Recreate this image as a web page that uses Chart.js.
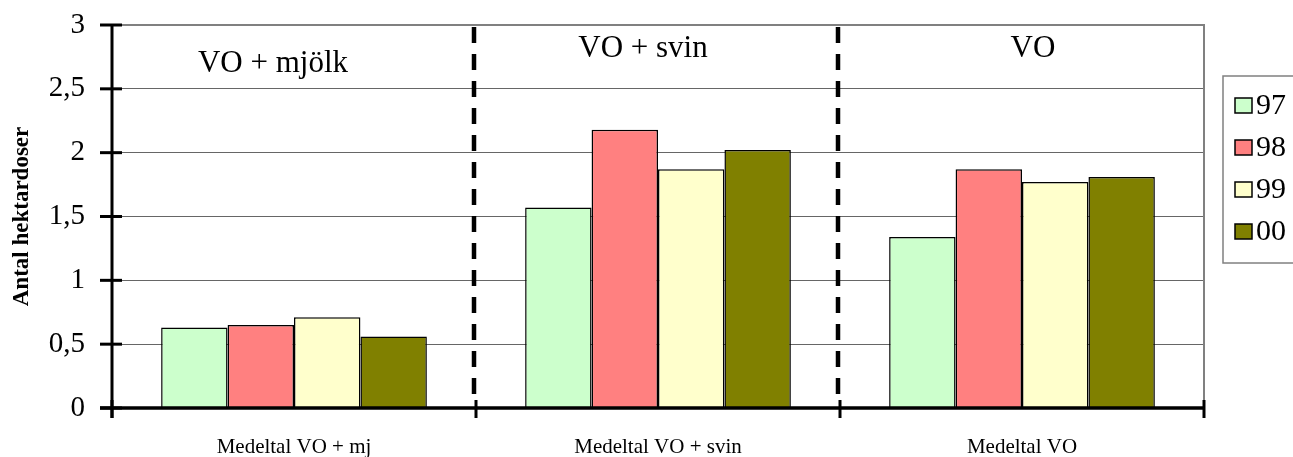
<!DOCTYPE html>
<html>
<head>
<meta charset="utf-8">
<script src="https://cdn.jsdelivr.net/npm/chart.js@4.4.0/dist/chart.umd.min.js"></script>
<style>
  html, body { margin: 0; padding: 0; background: #fff; }
  #wrap { width: 1293px; height: 457px; }
</style>
</head>
<body>
<div id="wrap"><canvas id="hektarChart"></canvas></div>
<script>
const categories = ['Medeltal VO + mj', 'Medeltal VO + svin', 'Medeltal VO'];
const groupTitles = ['VO + mjölk', 'VO + svin', 'VO'];
const years = ['97', '98', '99', '00'];
const values97 = [0.63, 1.57, 1.34];
const values98 = [0.65, 2.18, 1.87];
const values99 = [0.71, 1.87, 1.77];
const values00 = [0.56, 2.02, 1.81];
const colors = ['#CCFFCC', '#FF8080', '#FFFFCC', '#808000'];

const serif = '"Liberation Serif", "Times New Roman", serif';

// axes, ticks, dashed separators, group titles and legend
const decorPlugin = {
    id: 'decor',
    afterDraw(chart) {
        const ctx = chart.ctx;
        const area = chart.chartArea;
        const x = chart.scales.x;
        const y = chart.scales.y;
        ctx.save();

        // plot frame (top + right)
        ctx.strokeStyle = '#808080';
        ctx.lineWidth = 2;
        ctx.beginPath();
        ctx.moveTo(area.left, area.top);
        ctx.lineTo(area.right, area.top);
        ctx.lineTo(area.right, area.bottom);
        ctx.stroke();

        // dashed separators between groups
        ctx.strokeStyle = '#000';
        ctx.lineWidth = 4.5;
        ctx.setLineDash([16, 11]);
        for (let i = 1; i < categories.length; i++) {
            const px = (x.getPixelForValue(i - 1) + x.getPixelForValue(i)) / 2 - 2;
            ctx.beginPath();
            ctx.moveTo(px, area.top + 2);
            ctx.lineTo(px, area.bottom - 6);
            ctx.stroke();
        }
        ctx.setLineDash([]);

        // axis lines
        ctx.lineWidth = 3.5;
        ctx.beginPath();
        ctx.moveTo(area.left - 12, area.bottom);
        ctx.lineTo(area.right, area.bottom);
        ctx.stroke();
        ctx.lineWidth = 3;
        ctx.beginPath();
        ctx.moveTo(area.left, area.top);
        ctx.lineTo(area.left, area.bottom + 10);
        ctx.stroke();

        // y ticks crossing the axis
        y.ticks.forEach(t => {
            const py = y.getPixelForValue(t.value);
            ctx.beginPath();
            ctx.moveTo(area.left - 12, py);
            ctx.lineTo(area.left + 10, py);
            ctx.stroke();
        });
        // x ticks at group boundaries
        for (let i = 0; i <= categories.length; i++) {
            let px;
            if (i === 0) px = area.left;
            else if (i === categories.length) px = area.right;
            else px = (x.getPixelForValue(i - 1) + x.getPixelForValue(i)) / 2;
            ctx.beginPath();
            ctx.moveTo(px, area.bottom - 8);
            ctx.lineTo(px, area.bottom + 10);
            ctx.stroke();
        }

        // group titles inside the plot
        ctx.fillStyle = '#000';
        ctx.font = '31px ' + serif;
        ctx.textAlign = 'center';
        ctx.textBaseline = 'alphabetic';
        const offsets = [-21, -15, 11];
        const baselines = [72, 57, 57];
        groupTitles.forEach((g, i) => {
            ctx.fillText(g, x.getPixelForValue(i) + offsets[i], baselines[i]);
        });

        // legend
        const lx = 1223, ly = 76;
        ctx.fillStyle = '#fff';
        ctx.fillRect(lx, ly, 80, 187);
        ctx.strokeStyle = '#808080';
        ctx.lineWidth = 1.5;
        ctx.strokeRect(lx, ly, 80, 187);
        ctx.font = '30px ' + serif;
        ctx.textAlign = 'left';
        ctx.textBaseline = 'middle';
        years.forEach((yr, i) => {
            const cy = 105 + i * 42;
            ctx.fillStyle = colors[i];
            ctx.fillRect(lx + 12, cy - 7, 17, 15);
            ctx.strokeStyle = '#000';
            ctx.lineWidth = 1.5;
            ctx.strokeRect(lx + 12, cy - 7, 17, 15);
            ctx.fillStyle = '#000';
            ctx.fillText(yr, lx + 33, cy + 1);
        });
        ctx.restore();
    }
};

const ctx = document.getElementById('hektarChart').getContext('2d');
const hektarChart = new Chart(ctx, {
    type: 'bar',
    data: {
        labels: categories,
        datasets: [values97, values98, values99, values00].map((vals, i) => ({
            label: years[i],
            data: vals,
            backgroundColor: colors[i],
            borderColor: '#000',
            borderWidth: 1.5,
            categoryPercentage: 0.73,
            barPercentage: 1
        }))
    },
    options: {
        responsive: true,
        maintainAspectRatio: false,
        animation: false,
        layout: { autoPadding: false, padding: { top: 25, right: 89, left: 0, bottom: 0 } },
        scales: {
            x: {
                grid: { display: false, drawTicks: false },
                border: { display: false },
                ticks: { color: '#000', font: { family: serif, size: 21 }, padding: 27, maxRotation: 0 },
                afterFit(scale) { scale.height = 49; }
            },
            y: {
                min: 0, max: 3,
                grid: { color: '#666', lineWidth: 1, drawTicks: false },
                border: { display: false },
                ticks: {
                    stepSize: 0.5,
                    color: '#000',
                    padding: 27,
                    font: { family: serif, size: 29 },
                    callback: v => String(v).replace('.', ',')
                },
                title: {
                    display: true,
                    text: 'Antal hektardoser',
                    color: '#000',
                    font: { family: serif, size: 23, weight: 'bold' },
                    padding: { top: 8, bottom: 0 }
                },
                afterFit(scale) {
                    scale.width = 112;
                    scale.paddingTop = 0;
                    scale.paddingBottom = 0;
                }
            }
        },
        plugins: {
            legend: { display: false },
            tooltip: { enabled: false }
        }
    },
    plugins: [decorPlugin]
});
</script>
</body>
</html>
